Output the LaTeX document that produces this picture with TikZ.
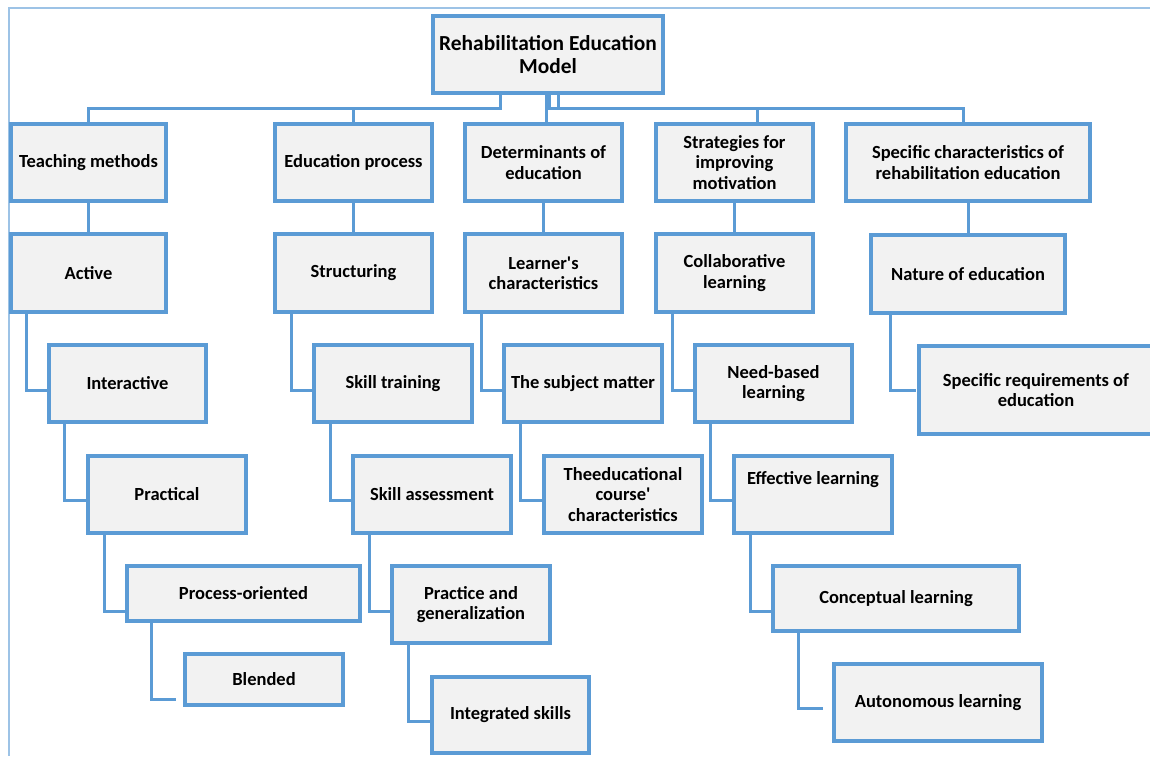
\documentclass[tikz,border=0pt]{standalone}
\usepackage{fontspec}
\setmainfont{Carlito}[Ligatures=TeXOff]
\definecolor{boxblue}{HTML}{5B9BD5}
\definecolor{boxfill}{HTML}{F2F2F2}
\definecolor{frameblue}{HTML}{9DC3E6}
\begin{document}
\begin{tikzpicture}[x=1pt,y=-1pt,
  box/.style={draw=boxblue, fill=boxfill, line width=3.1pt, inner sep=0pt, outer sep=0pt,
    align=center, font=\fontsize{18.5}{20.5}\selectfont\bfseries},
  conn/.style={draw=boxblue, line width=3pt},
  framel/.style={draw=frameblue, line width=1.3pt}]
\useasboundingbox (0,0) rectangle (1150,756);
\coordinate (ftop) at (1150,8);
\coordinate (fcorner) at (9,8);
\coordinate (fbot) at (9,756);
\draw[framel] (ftop) -- (fcorner) -- (fbot);

% root
\node[box, minimum width=230pt, minimum height=77pt, font=\fontsize{21.4}{23}\selectfont\bfseries] (root) at (548,54.5) {Rehabilitation Education\\Model};
% level 1
\node[box, minimum width=155pt, minimum height=77pt] (teach) at (88.5,162.5) {Teaching methods};
\node[box, minimum width=157pt, minimum height=77pt] (edu) at (353.5,162.5) {Education process};
\node[box, minimum width=157pt, minimum height=77pt] (det) at (543.5,162.5) {Determinants of\\education};
\node[box, minimum width=157pt, minimum height=77pt] (strat) at (734.5,162.5) {Strategies for\\improving\\motivation};
\node[box, minimum width=244pt, minimum height=77pt] (spec) at (968,162.5) {Specific characteristics of\\rehabilitation education};
% level 2
\node[box, minimum width=155pt, minimum height=78pt] (active) at (88.5,273) {Active};
\node[box, minimum width=157pt, minimum height=78pt] (struct) at (353.5,273) {Structuring};
\node[box, minimum width=157pt, minimum height=78pt] (learner) at (543.5,273) {Learner's\\characteristics};
\node[box, minimum width=157pt, minimum height=78pt] (collab) at (734.5,273) {Collaborative\\learning};
\node[box, minimum width=194pt, minimum height=78pt] (nature) at (968,274) {Nature of education};
% level 3
\node[box, minimum width=157pt, minimum height=77pt] (inter) at (127.5,383.5) {Interactive};
\node[box, minimum width=158pt, minimum height=77pt] (skilltr) at (393,383.5) {Skill training};
\node[box, minimum width=158pt, minimum height=77pt] (subj) at (583,383.5) {The subject matter};
\node[box, minimum width=157pt, minimum height=77pt] (need) at (773.5,383.5) {Need-based\\learning};
\node[box, minimum width=234pt, minimum height=88pt] (specreq) at (1036,390) {Specific requirements of\\education};
% level 4
\node[box, minimum width=158pt, minimum height=77pt] (pract) at (167,494.5) {Practical};
\node[box, minimum width=158pt, minimum height=77pt] (skillass) at (432,494.5) {Skill assessment};
\node[box, minimum width=158pt, minimum height=77pt] (theedu) at (623,494.5) {Theeducational\\course'\\characteristics};
\node[box, minimum width=158pt, minimum height=77pt] (effect) at (813,494.5) {Effective learning\\[12pt]\mbox{}};
% level 5
\node[box, minimum width=233pt, minimum height=55pt] (process) at (243.5,593.5) {Process-oriented};
\node[box, minimum width=158pt, minimum height=77pt] (practice) at (471,604.5) {Practice and\\generalization};
\node[box, minimum width=246pt, minimum height=65pt] (concept) at (896,598.5) {Conceptual learning};
% level 6
\node[box, minimum width=158pt, minimum height=51pt] (blend) at (264,679.5) {Blended};
\node[box, minimum width=157pt, minimum height=76pt] (integ) at (510.5,715) {Integrated skills};
\node[box, minimum width=208pt, minimum height=77pt] (auto) at (938,702.5) {Autonomous learning};

% root connectors
\draw[conn] ([xshift=-48pt]root.south) -- ++(0,15) -| (teach.north);
\draw[conn] ([xshift=-48pt]root.south) -- ++(0,15) -| (edu.north);
\draw[conn] ([xshift=-2pt]root.south) -- ++(0,15) -| ([xshift=2.5pt]det.north);
\draw[conn] ([xshift=1pt]root.south) -- ++(0,15) -| ([xshift=-5pt]spec.north);
\draw[conn] ([xshift=10pt]root.south) -- ++(0,15) -| ([xshift=22.5pt]strat.north);

% level 1 -> 2
\draw[conn] (teach.south) -- (active.north);
\draw[conn] (edu.south) -- (struct.north);
\draw[conn] (det.south) -- (learner.north);
\draw[conn] (strat.south) -- (collab.north);
\draw[conn] (spec.south) -- (nature.north);

% elbows
\draw[conn] ([xshift=15pt]active.south west) |- ([yshift=-6.5pt]inter.west);
\draw[conn] ([xshift=15pt]inter.south west) |- ([yshift=-5.5pt]pract.west);
\draw[conn] ([xshift=16pt]pract.south west) |- ([yshift=-17.5pt]process.west);
\draw[conn, shorten >=9pt] ([xshift=24pt]process.south west) |- ([yshift=-19.5pt]blend.west);

\draw[conn] ([xshift=16pt]struct.south west) |- ([yshift=-6.5pt]skilltr.west);
\draw[conn] ([xshift=16pt]skilltr.south west) |- ([yshift=-5.5pt]skillass.west);
\draw[conn] ([xshift=16pt]skillass.south west) |- ([yshift=-6.5pt]practice.west);
\draw[conn] ([xshift=16pt]practice.south west) |- ([yshift=-6pt]integ.west);

\draw[conn] ([xshift=16pt]learner.south west) |- ([yshift=-6.5pt]subj.west);
\draw[conn] ([xshift=16pt]subj.south west) |- ([yshift=-5.5pt]theedu.west);

\draw[conn] ([xshift=16pt]collab.south west) |- ([yshift=-6.5pt]need.west);
\draw[conn] ([xshift=15pt]need.south west) |- ([yshift=-5.5pt]effect.west);
\draw[conn] ([xshift=16pt]effect.south west) |- ([yshift=-12.5pt]concept.west);
\draw[conn, shorten >=11pt] ([xshift=25pt]concept.south west) |- ([yshift=-5.5pt]auto.west);

\draw[conn, shorten >=3pt] ([xshift=19pt]nature.south west) |- (specreq.west);
\end{tikzpicture}
\end{document}
